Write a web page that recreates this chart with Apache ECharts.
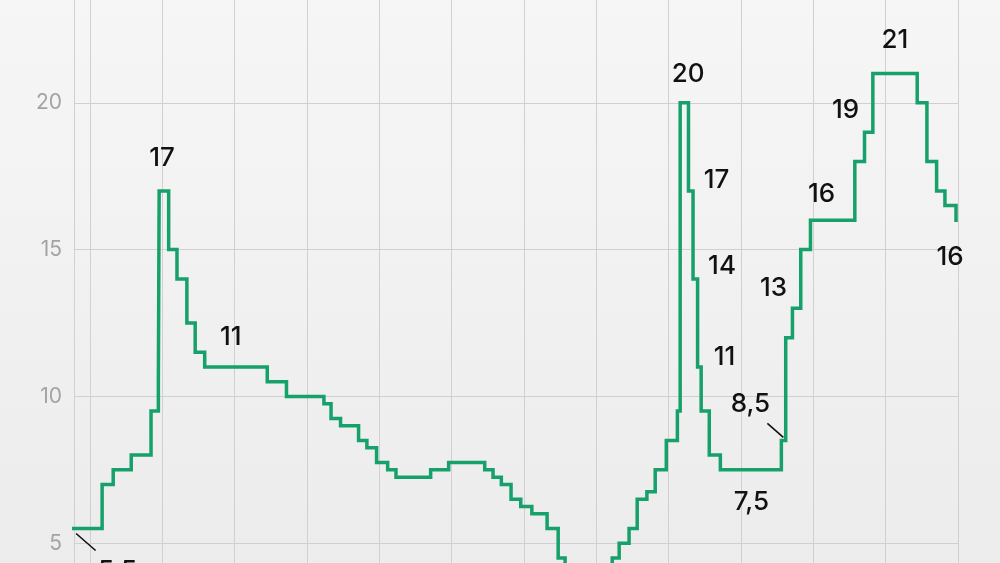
<!DOCTYPE html>
<html>
<head>
<meta charset="utf-8">
<script src="https://cdn.jsdelivr.net/npm/echarts@6/dist/echarts.min.js"></script>
<style>
  html, body { margin: 0; padding: 0; background: #f2f2f2; }
  #main { width: 1000px; height: 563px; }
</style>
</head>
<body>
<div id="main"></div>
<script>
// key rate change dates and the rate set on each date (last entry = end of line)
var rateDates = [
  '2013-09-13', '2014-03-03', '2014-04-28', '2014-07-28', '2014-11-05', '2014-12-12', '2014-12-16',
  '2015-02-02', '2015-03-16', '2015-05-05', '2015-06-16', '2015-08-03', '2016-06-14', '2016-09-19',
  '2017-03-27', '2017-05-02', '2017-06-19', '2017-09-18', '2017-10-30', '2017-12-18', '2018-02-12',
  '2018-03-26', '2018-09-17', '2018-12-17', '2019-06-17', '2019-07-29', '2019-09-09', '2019-10-28',
  '2019-12-16', '2020-02-10', '2020-04-27', '2020-06-22', '2020-07-27', '2021-03-22', '2021-04-26',
  '2021-06-15', '2021-07-26', '2021-09-13', '2021-10-25', '2021-12-20', '2022-02-14', '2022-02-28',
  '2022-04-11', '2022-05-04', '2022-05-27', '2022-06-14', '2022-07-25', '2022-09-19', '2023-07-24',
  '2023-08-15', '2023-09-18', '2023-10-30', '2023-12-18', '2024-07-29', '2024-09-16', '2024-10-28',
  '2025-06-09', '2025-07-28', '2025-09-15', '2025-10-27', '2025-12-22', '2025-12-31'
];
var rateValues = [
  5.5, 7, 7.5, 8, 9.5, 10.5, 17,
  15, 14, 12.5, 11.5, 11, 10.5, 10,
  9.75, 9.25, 9, 8.5, 8.25, 7.75, 7.5,
  7.25, 7.5, 7.75, 7.5, 7.25, 7, 6.5,
  6.25, 6, 5.5, 4.5, 4.25, 4.5, 5,
  5.5, 6.5, 6.75, 7.5, 8.5, 9.5, 20,
  17, 14, 11, 9.5, 8, 7.5, 8.5,
  12, 13, 15, 16, 18, 19, 21,
  20, 18, 17, 16.5, 16, 16
];

// annotated points
var noteDates = ['2013-10-15', '2014-12-16', '2015-08-03', '2022-02-28', '2022-04-11', '2022-05-04',
  '2022-05-27', '2022-09-19', '2023-07-24', '2023-09-18', '2023-12-18', '2024-09-16', '2024-10-28', '2025-12-22'];
var noteValues = [5.5, 17, 11, 20, 17, 14, 11, 7.5, 8.5, 13, 16, 19, 21, 16];
var noteTexts = ['5,5', '17', '11', '20', '17', '14', '11', '7,5', '8,5', '13', '16', '19', '21', '16'];

// label placement relative to the point (px); leader segments [x1, y1, x2, y2] relative to the point
var noteShift = [[43, 43], [3, -33], [26, -30], [8, -29], [28, -11], [29, -13], [27, -10],
  [31, 32], [-31, -36], [-19, -20], [11, -26], [-19, -22], [22, -33], [-6, 37]];
var noteLeader = [[1.5, 5, 21, 22], null, null, null, null, null, null,
  null, [-14, -17, 2, -3], null, null, null, null, null];

var yTicks = [0, 25, 5];  // min, max, interval

var myChart = echarts.init(document.getElementById('main'));

var lineData = rateDates.map(function (d, i) { return [d, rateValues[i]]; });
var noteData = noteDates.map(function (d, i) { return [d, noteValues[i]]; });

var gridColor = '#d0d0d0';

function renderNote(params, api) {
  var i = params.dataIndex;
  var p = api.coord([api.value(0), api.value(1)]);
  var s = noteShift[i];
  var children = [{
    type: 'text',
    x: p[0] + s[0],
    y: p[1] + s[1],
    style: {
      text: noteTexts[i],
      fill: '#111111',
      font: '500 26px Inter',
      align: 'center',
      verticalAlign: 'middle'
    }
  }];
  var l = noteLeader[i];
  if (l) {
    children.push({
      type: 'line',
      shape: { x1: p[0] + l[0], y1: p[1] + l[1], x2: p[0] + l[2], y2: p[1] + l[3] },
      style: { stroke: '#111111', lineWidth: 1.6 }
    });
  }
  return { type: 'group', children: children };
}

var option = {
  animation: false,
  backgroundColor: {
    type: 'linear', x: 0, y: 0, x2: 0, y2: 1,
    colorStops: [{ offset: 0, color: '#f6f6f6' }, { offset: 1, color: '#ececec' }]
  },
  textStyle: { fontFamily: 'Inter' },
  grid: {
    left: 74,
    right: 42,
    top: -44,
    bottom: -127,
    outerBoundsMode: 'none'
  },
  xAxis: {
    type: 'time',
    min: '2013-10-12',
    max: '2026-01-01',
    minInterval: 365 * 24 * 3600 * 1000,
    maxInterval: 366 * 24 * 3600 * 1000,
    axisLine: { show: false },
    axisTick: { show: false },
    axisLabel: { show: false },
    splitLine: { show: true, lineStyle: { color: gridColor, width: 1 } }
  },
  yAxis: {
    type: 'value',
    min: yTicks[0],
    max: yTicks[1],
    interval: yTicks[2],
    axisLine: { show: true, lineStyle: { color: gridColor, width: 1 } },
    axisTick: { show: false },
    axisLabel: { color: '#a3a3a3', fontSize: 21, margin: 12, fontFamily: 'Inter' },
    splitLine: { lineStyle: { color: gridColor, width: 1 } }
  },
  series: [
    {
      type: 'line',
      step: 'end',
      data: lineData,
      showSymbol: false,
      lineStyle: { color: '#16a06a', width: 3.5, join: 'miter' },
      z: 3
    },
    {
      type: 'custom',
      data: noteData,
      encode: { x: 0, y: 1 },
      renderItem: renderNote,
      silent: true,
      z: 4
    }
  ]
};

myChart.setOption(option);
</script>
</body>
</html>
